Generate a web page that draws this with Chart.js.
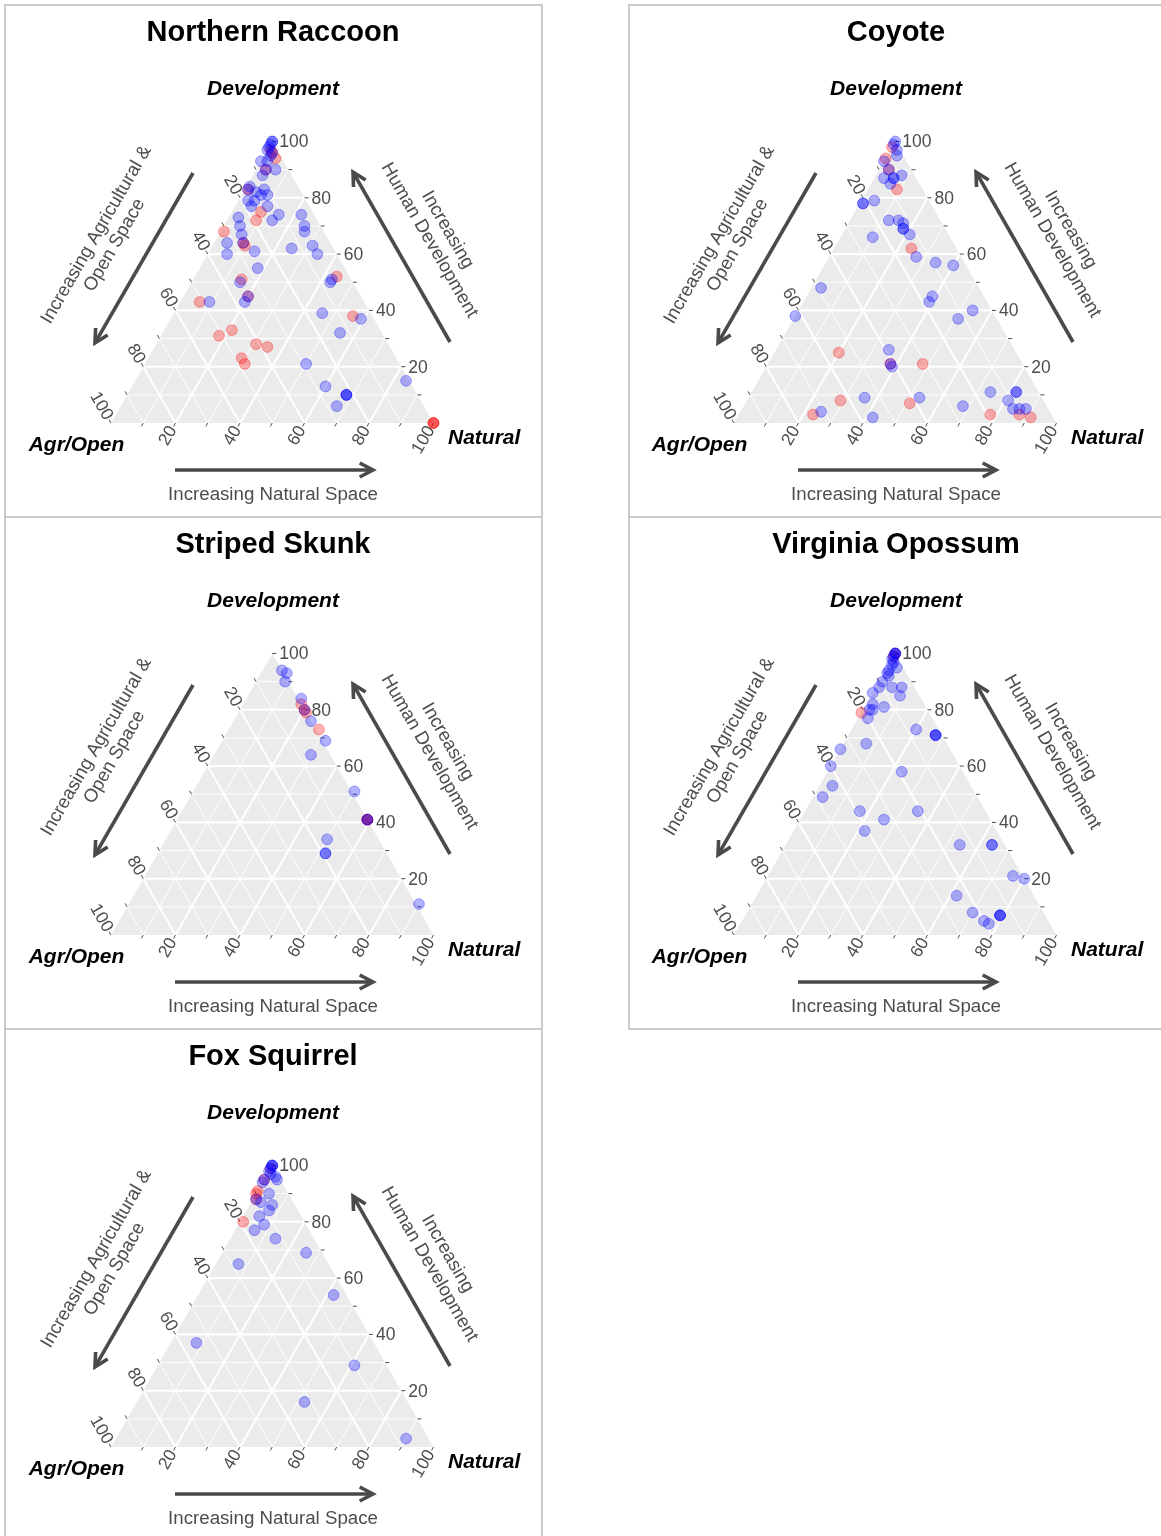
<!DOCTYPE html>
<html>
<head>
<meta charset="utf-8">
<script src="https://cdn.jsdelivr.net/npm/chart.js@4/dist/chart.umd.min.js"></script>
<style>
  html, body { margin: 0; padding: 0; background: #ffffff; }
  body { position: relative; width: 1161px; height: 1536px; overflow: hidden; }
  canvas { position: absolute; }
  .rule { position: absolute; background: #cbcbcb; }
</style>
</head>
<body>
<div class="rule" style="left:4px;top:4px;width:539px;height:2px"></div>
<div class="rule" style="left:4px;top:516px;width:539px;height:2px"></div>
<div class="rule" style="left:4px;top:1028px;width:539px;height:2px"></div>
<div class="rule" style="left:4px;top:4px;width:2px;height:1532px"></div>
<div class="rule" style="left:541px;top:4px;width:2px;height:1532px"></div>
<div class="rule" style="left:628px;top:4px;width:533px;height:2px"></div>
<div class="rule" style="left:628px;top:516px;width:533px;height:2px"></div>
<div class="rule" style="left:628px;top:1028px;width:533px;height:2px"></div>
<div class="rule" style="left:628px;top:4px;width:2px;height:1026px"></div>

<script>
// Site composition as [Development %, Natural %]; Agr/Open = 100 - Development - Natural.
const raccoonBlue = [
  [100,0],[100,0],[99,0],[98,0],[97,0],[96,2],[95,2],[93,0],[93,2],[90,6],[90,3],[88,3],
  [84,1],[83,1],[82,4],[83,6],[81,8],[79,3],[79,5],[77,5],[81,6],[77,10],[72,14],[74,15],
  [73,3],[70,5],[67,7],[64,4],[60,6],[64,9],[61,14],[55,18],[74,22],[70,25],[68,26],[63,31],
  [60,34],[62,25],[50,43],[51,43],[50,15],[45,20],[43,20],[43,9],[39,46],[37,59],[32,55],
  [21,50],[15,84],[13,60],[10,68],[10,68],[10,68],[6,67]
];
const raccoonRed = [
  [97,1],[96,2],[94,4],[90,3],[83,1],[75,9],[72,9],[68,1],[64,9],[63,10],[52,44],[51,15],
  [45,20],[43,6],[38,56],[33,21],[31,18],[28,31],[27,35],[23,29],[21,31],[0,100],[0,100],[0,100]
];
const coyoteBlue = [
  [100,0],[99,0],[97,2],[95,3],[93,0],[90,3],[87,3],[87,6],[87,6],[88,8],[85,6],[78,1],
  [78,1],[79,4],[72,12],[72,15],[71,17],[69,18],[69,18],[67,21],[66,10],[59,27],[57,34],
  [56,40],[45,39],[43,39],[40,54],[37,51],[48,3],[38,0],[26,35],[21,38],[20,39],[9,36],
  [2,42],[9,53],[4,25],[6,68],[11,74],[11,82],[11,82],[8,81],[5,84],[5,86],[5,88]
];
const coyoteRed = [
  [98,0],[94,0],[90,3],[83,9],[62,24],[25,20],[21,38],[21,48],[8,29],[7,51],[3,23],
  [3,78],[3,87],[2,91]
];
const skunkBlue = [
  [94,6],[93,8],[90,9],[84,17],[80,20],[76,24],[69,32],[64,30],[51,50],[41,59],[41,59],
  [34,50],[29,52],[29,52],[11,90]
];
const skunkRed = [
  [82,18],[80,20],[79,21],[73,28],[41,59],[41,59],[41,59]
];
const opossumBlue = [
  [100,0],[100,0],[100,0],[99,0],[98,0],[97,1],[96,1],[94,1],[95,3],[93,1],[92,2],[90,1],
  [88,1],[88,5],[88,8],[85,9],[86,0],[82,2],[81,6],[80,2],[80,3],[77,3],[73,20],[71,27],
  [71,27],[71,27],[68,7],[66,0],[60,0],[58,23],[53,4],[49,3],[44,17],[41,26],[44,35],
  [37,22],[32,54],[32,64],[32,64],[21,76],[20,80],[14,62],[8,70],[5,75],[4,77],[7,79],
  [7,79],[7,79]
];
const opossumRed = [
  [100,0],[99,0],[79,0]
];
const squirrelBlue = [
  [100,0],[100,0],[100,0],[99,0],[98,0],[97,1],[96,3],[95,0],[94,0],[95,4],[88,1],[90,4],
  [87,3],[86,7],[84,7],[82,5],[79,8],[77,6],[74,14],[69,26],[65,7],[54,42],[37,8],[29,61],
  [16,52],[3,90]
];
const squirrelRed = [
  [99,0],[95,0],[91,0],[90,0],[88,1],[80,1]
];

const speciesNames = ["Northern Raccoon", "Coyote", "Striped Skunk", "Virginia Opossum", "Fox Squirrel"];
const blueSets = [raccoonBlue, coyoteBlue, skunkBlue, opossumBlue, squirrelBlue];
const redSets = [raccoonRed, coyoteRed, skunkRed, opossumRed, squirrelRed];
const tickLabels = [20, 40, 60, 80, 100];
const tickSteps = [10, 20, 30, 40, 50, 60, 70, 80, 90, 100];
const gridSteps = [10, 20, 30, 40, 50, 60, 70, 80, 90];

const panelOrigins = [[5, 5], [628, 5], [5, 517], [628, 517], [5, 1029]];
const PANEL_W = 537, PANEL_H = 512;
const SANS = '"Liberation Sans", Arial, Helvetica, sans-serif';
const INK = '#4d4d4d';

// ternary (Development, Natural) -> cartesian plane of the equilateral plot
function toXY(pair) {
  return { x: pair[1] + pair[0] / 2, y: pair[0] };
}

function drawArrow(ctx, x0, y0, x1, y1) {
  const ang = Math.atan2(y1 - y0, x1 - x0);
  const head = 15, spread = Math.PI / 6.5;
  ctx.save();
  ctx.strokeStyle = '#4a4a4a';
  ctx.lineWidth = 3.6;
  ctx.lineCap = 'butt';
  ctx.lineJoin = 'miter';
  ctx.beginPath();
  ctx.moveTo(x0, y0);
  ctx.lineTo(x1 - Math.cos(ang) * 1.5, y1 - Math.sin(ang) * 1.5);
  ctx.stroke();
  ctx.beginPath();
  ctx.moveTo(x1 - head * Math.cos(ang - spread), y1 - head * Math.sin(ang - spread));
  ctx.lineTo(x1, y1);
  ctx.lineTo(x1 - head * Math.cos(ang + spread), y1 - head * Math.sin(ang + spread));
  ctx.stroke();
  ctx.restore();
}

function rotatedText(ctx, lines, cx, cy, angleDeg, lineGap) {
  ctx.save();
  ctx.translate(cx, cy);
  ctx.rotate(angleDeg * Math.PI / 180);
  ctx.textAlign = 'center';
  ctx.textBaseline = 'middle';
  const n = lines.length;
  lines.forEach((t, i) => ctx.fillText(t, 0, (i - (n - 1) / 2) * lineGap));
  ctx.restore();
}

const ternaryFrame = {
  id: 'ternaryFrame',
  beforeDatasetsDraw(chart) {
    const { ctx } = chart;
    const sx = chart.scales.x, sy = chart.scales.y;
    const P = (d, n) => [sx.getPixelForValue(n + d / 2), sy.getPixelForValue(d)];
    ctx.save();
    // panel background
    const a = P(0, 0), b = P(0, 100), t = P(100, 0);
    ctx.fillStyle = '#ebebeb';
    ctx.beginPath();
    ctx.moveTo(a[0], a[1]); ctx.lineTo(b[0], b[1]); ctx.lineTo(t[0], t[1]);
    ctx.closePath();
    ctx.fill();
    // grid lines for each of the three components
    ctx.strokeStyle = '#ffffff';
    gridSteps.forEach(v => {
      ctx.lineWidth = v % 20 === 0 ? 2.1 : 1.0;
      const segs = [
        [P(v, 0), P(v, 100 - v)],
        [P(0, v), P(100 - v, v)],
        [P(0, 100 - v), P(100 - v, 0)]
      ];
      segs.forEach(([p, q]) => {
        ctx.beginPath(); ctx.moveTo(p[0], p[1]); ctx.lineTo(q[0], q[1]); ctx.stroke();
      });
    });
    // ticks and tick labels
    const c60 = 0.5, s60 = Math.sqrt(3) / 2;
    ctx.strokeStyle = INK;
    ctx.fillStyle = INK;
    ctx.lineWidth = 1;
    ctx.font = '17.5px ' + SANS;
    tickSteps.forEach(v => {
      const labelled = tickLabels.includes(v);
      // Development (right edge)
      let p = P(v, 100 - v);
      ctx.beginPath(); ctx.moveTo(p[0], p[1]); ctx.lineTo(p[0] + 4, p[1]); ctx.stroke();
      if (labelled) {
        ctx.save();
        ctx.textAlign = 'left'; ctx.textBaseline = 'middle';
        ctx.fillText(String(v), p[0] + 7, p[1] + 1);
        ctx.restore();
      }
      // Agr/Open (left edge)
      p = P(100 - v, 0);
      ctx.beginPath(); ctx.moveTo(p[0], p[1]); ctx.lineTo(p[0] - 4 * c60, p[1] - 4 * s60); ctx.stroke();
      if (labelled) {
        ctx.save();
        ctx.translate(p[0] - 5 * c60, p[1] - 5 * s60);
        ctx.rotate(Math.PI / 3);
        ctx.textAlign = 'right'; ctx.textBaseline = 'middle';
        ctx.fillText(String(v), 0, 0);
        ctx.restore();
      }
      // Natural (bottom edge)
      p = P(0, v);
      ctx.beginPath(); ctx.moveTo(p[0], p[1]); ctx.lineTo(p[0] - 4 * c60, p[1] + 4 * s60); ctx.stroke();
      if (labelled) {
        ctx.save();
        ctx.translate(p[0] - 5 * c60, p[1] + 5 * s60);
        ctx.rotate(-Math.PI / 3);
        ctx.textAlign = 'right'; ctx.textBaseline = 'middle';
        ctx.fillText(String(v), 0, 0);
        ctx.restore();
      }
    });
    ctx.restore();
  },
  afterDraw(chart, args, opts) {
    const { ctx } = chart;
    ctx.save();
    // title and vertex names
    ctx.fillStyle = '#000000';
    ctx.textAlign = 'center';
    ctx.textBaseline = 'alphabetic';
    ctx.font = 'bold 29px ' + SANS;
    ctx.fillText(opts.title, 268, 36);
    ctx.font = 'italic bold 21px ' + SANS;
    ctx.fillText('Development', 268, 89.5);
    ctx.fillText('Agr/Open', 71.5, 446);
    ctx.textAlign = 'left';
    ctx.fillText('Natural', 443, 438.5);
    // direction arrows
    drawArrow(ctx, 170, 465, 368, 465);
    drawArrow(ctx, 188, 168, 90, 338);
    drawArrow(ctx, 445, 337, 348, 167);
    // arrow captions
    ctx.fillStyle = INK;
    ctx.font = '18.7px ' + SANS;
    ctx.textAlign = 'center';
    ctx.fillText('Increasing Natural Space', 268, 495);
    rotatedText(ctx, ['Increasing Agricultural &', 'Open Space'], 100.5, 235, -60, 21);
    rotatedText(ctx, ['Increasing', 'Human Development'], 433.5, 230, 60, 21);
    ctx.restore();
  }
};

speciesNames.forEach((name, i) => {
  const cv = document.createElement('canvas');
  cv.width = PANEL_W; cv.height = PANEL_H;
  cv.style.left = panelOrigins[i][0] + 'px';
  cv.style.top = panelOrigins[i][1] + 'px';
  cv.style.width = PANEL_W + 'px'; cv.style.height = PANEL_H + 'px';
  document.body.appendChild(cv);
  const pointStyle = (r, g, b) => ({
    backgroundColor: `rgba(${r},${g},${b},0.3)`,
    borderColor: `rgba(${r},${g},${b},0.32)`,
    borderWidth: 1,
    pointRadius: 5.4,
    clip: false
  });
  new Chart(cv, {
    type: 'scatter',
    data: {
      datasets: [
        Object.assign({ label: name + ' (blue)', data: blueSets[i].map(toXY) }, pointStyle(0, 0, 255)),
        Object.assign({ label: name + ' (red)', data: redSets[i].map(toXY) }, pointStyle(255, 0, 0))
      ]
    },
    options: {
      responsive: false,
      animation: false,
      devicePixelRatio: 1,
      events: [],
      layout: { padding: { left: 106, right: 108.5, top: 136.5, bottom: 94 } },
      scales: {
        x: { type: 'linear', min: 0, max: 100, display: false },
        y: { type: 'linear', min: 0, max: 100, display: false }
      },
      plugins: {
        legend: { display: false },
        tooltip: { enabled: false },
        ternaryFrame: { title: name }
      }
    },
    plugins: [ternaryFrame]
  });
});
</script>
</body>
</html>
